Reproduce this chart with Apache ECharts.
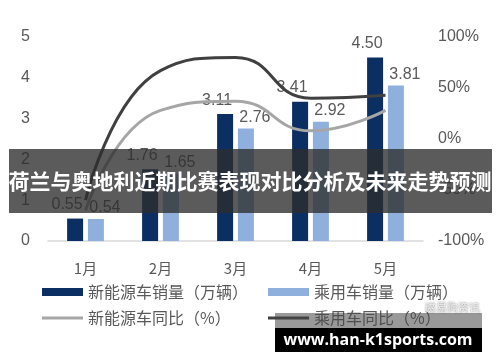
<!DOCTYPE html>
<html>
<head>
<meta charset="utf-8">
<script src="https://cdn.jsdelivr.net/npm/echarts@6/dist/echarts.min.js"></script>
<style>
html,body{margin:0;padding:0;background:#fff;}
#chart{width:500px;height:362px;}
</style>
</head>
<body>
<div id="chart"></div>
<script>
var categories = ['1月', '2月', '3月', '4月', '5月'];
var nevSales = [0.55, 1.76, 3.11, 3.41, 4.50];
var pvSales = [0.54, 1.65, 2.76, 2.92, 3.81];
var nevYoY = [-70, 28, 37, 8, 28];
var pvYoY = [-60, 67, 80, 40, 43];
var seriesNames = ['新能源车销量（万辆）', '乘用车销量（万辆）', '新能源车同比（%）', '乘用车同比（%）'];
var titleText = '荷兰与奥地利近期比赛表现对比分析及未来走势预测';
var siteText = 'www.han-k1sports.com';
var markText = '磁易购资讯';

var chart = echarts.init(document.getElementById('chart'), null, {renderer: 'canvas'});
var txt = '#595959';
var font = 'Liberation Sans, Arial, Noto Sans CJK SC, sans-serif';
var cjk = 'Noto Sans CJK SC, sans-serif';

function legendAt(name, left, top, icon, h) {
  return {
    data: [name], left: left, top: top, itemWidth: 41, itemHeight: h, icon: icon,
    itemGap: 0, padding: 0,
    textStyle: {color: txt, fontSize: 16, fontFamily: cjk, padding: [0, 0, 0, 0]}
  };
}

var option = {
  animation: false,
  backgroundColor: '#fff',
  grid: {left: 48, right: 77, top: 37, bottom: 121},
  legend: [
    legendAt(seriesNames[0], 42, 284, 'rect', 8),
    legendAt(seriesNames[1], 268, 284, 'rect', 8),
    legendAt(seriesNames[2], 42, 310, 'rect', 3),
    legendAt(seriesNames[3], 268, 310, 'rect', 3)
  ],
  xAxis: {
    type: 'category', data: categories,
    axisLine: {lineStyle: {color: '#d9d9d9', width: 1.5}},
    axisTick: {show: false},
    axisLabel: {color: txt, fontSize: 15, fontFamily: cjk, margin: 20}
  },
  yAxis: [
    {type: 'value', min: 0, max: 5, interval: 1,
     splitLine: {show: false}, axisLine: {show: false}, axisTick: {show: false},
     axisLabel: {color: txt, fontSize: 16, fontFamily: font, margin: 18, align: 'right'}},
    {type: 'value', min: -100, max: 100, interval: 50,
     splitLine: {show: false}, axisLine: {show: false}, axisTick: {show: false},
     axisLabel: {color: txt, fontSize: 16, fontFamily: font, margin: 15, formatter: '{value}%'}}
  ],
  series: [
    {name: seriesNames[0], type: 'bar', data: nevSales, barWidth: 16, barGap: '30%',
     itemStyle: {color: '#0c2f63'},
     label: {show: true, position: 'top', distance: 6, offset: [-8, 0], color: txt, fontSize: 16, fontFamily: font,
             formatter: function (p) { return p.value.toFixed(2); }}},
    {name: seriesNames[1], type: 'bar', data: pvSales, barWidth: 16,
     itemStyle: {color: '#8fb0dc'},
     label: {show: true, position: 'top', distance: 3, offset: [9, 0], color: txt, fontSize: 16, fontFamily: font,
             formatter: function (p) { return p.value.toFixed(2); }}},
    {name: seriesNames[2], type: 'line', yAxisIndex: 1, data: nevYoY, smooth: 0.5, showSymbol: false, z: 5,
     lineStyle: {color: '#a6a6a6', width: 3}, itemStyle: {color: '#a6a6a6'}},
    {name: seriesNames[3], type: 'line', yAxisIndex: 1, data: pvYoY, smooth: 0.5, showSymbol: false, z: 5,
     lineStyle: {color: '#404040', width: 3}, itemStyle: {color: '#404040'}}
  ],
  graphic: [
    {type: 'rect', z: 100, shape: {x: 9, y: 149, width: 483, height: 64}, style: {fill: 'rgba(45,45,45,0.78)'}},
    {type: 'text', z: 101, x: 250, y: 181, style: {text: titleText, fill: '#fff', font: 'bold 21px "Noto Sans CJK SC", sans-serif', textAlign: 'center', textVerticalAlign: 'middle'}},
    {type: 'rect', z: 100, shape: {x: 275, y: 313, width: 207, height: 16}, style: {fill: 'rgba(70,70,70,0.55)'}},
    {type: 'text', z: 101, x: 480, y: 308, style: {text: markText, fill: '#f0f0f0', font: '11px "Noto Sans CJK SC", sans-serif', textAlign: 'right', textVerticalAlign: 'middle', textShadowColor: 'rgba(0,0,0,0.6)', textShadowBlur: 2}},
    {type: 'rect', z: 100, shape: {x: 275, y: 328, width: 207, height: 24}, style: {fill: '#000'}},
    {type: 'text', z: 101, x: 378, y: 340, style: {text: siteText, fill: '#fff', font: 'bold 16px "Open Sans", sans-serif', textAlign: 'center', textVerticalAlign: 'middle'}}
  ]
};
chart.setOption(option);
</script>
</body>
</html>
